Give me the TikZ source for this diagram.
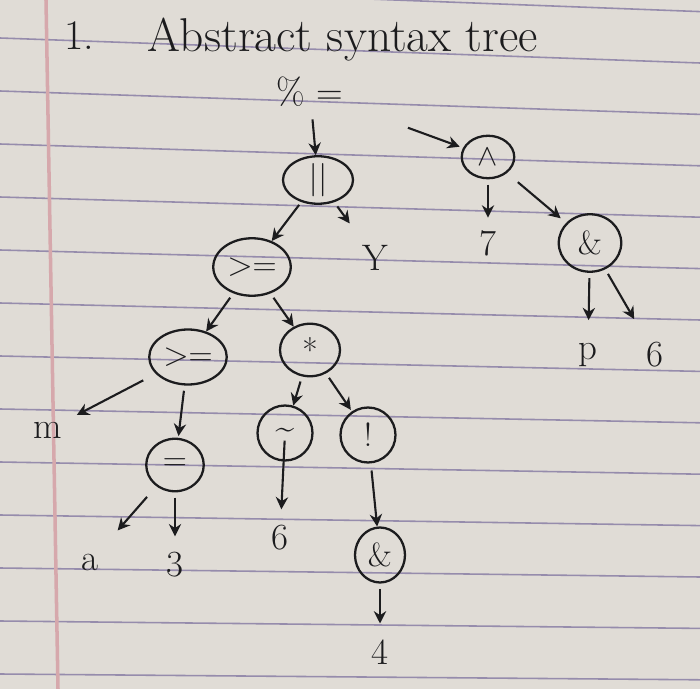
\documentclass[tikz,border=0pt]{standalone}
\usepackage{xcolor}
\usepackage{tikz}
\usetikzlibrary{shapes.geometric, arrows.meta}

\definecolor{paper}{RGB}{224,220,214}
\definecolor{rule}{RGB}{150,140,172}
\definecolor{margin}{RGB}{214,168,172}
\definecolor{ink}{RGB}{28,28,30}

\tikzset{
    op/.style={draw=ink, ellipse, line width=1.3pt, inner sep=0pt,
        minimum width=1.2cm, minimum height=1.05cm, text=ink,
        font=\fontsize{19}{21}\selectfont},
    leaf/.style={text=ink, inner sep=1pt, font=\fontsize{21}{23}\selectfont},
    arr/.style={draw=ink, line width=1.2pt, -{Stealth[length=7pt, width=7pt]}}
}

\begin{document}
\begin{tikzpicture}[x=0.02cm, y=-0.02cm]
    % the sheet
    \fill[paper] (0,0) rectangle (700,689);
    \useasboundingbox (0,0) rectangle (700,689);
    \foreach \k in {-1,...,12}
        \draw[rule, line width=0.9pt] (0, {38+53*\k}) -- (700, {38+53*\k+25-1.6*\k});
    \draw[margin, line width=2pt] (46,0) -- (58,689);

    % title
    \node[leaf, anchor=west] (num) at (62,36) {\fontsize{24}{26}\selectfont 1.};
    \node[leaf, anchor=west] (title) at (145,40) {\fontsize{27}{29}\selectfont Abstract syntax tree};

    % operators
    \node[leaf] (root) at (310,92) {\% =};
    \node[op, minimum width=1.4cm, minimum height=0.95cm] (or) at (318,180) {||};
    \node[op, minimum width=1.05cm, minimum height=0.85cm] (xor) at (488,157) {$\wedge$};
    \node[op, minimum width=1.55cm, minimum height=1.15cm] (ge1) at (252,267) {>=};
    \node[op, minimum width=1.25cm, minimum height=1.15cm] (and1) at (590,243) {\&};
    \node[op, minimum width=1.55cm, minimum height=1.1cm] (ge2) at (188,357) {>=};
    \node[op] (mul) at (310,350) {*};
    \node[op, minimum width=1.15cm] (eq) at (175,465) {=};
    \node[op, minimum width=1.1cm, minimum height=1.1cm] (tilde) at (285,433) {\textasciitilde};
    \node[op, minimum width=1.1cm, minimum height=1.1cm] (bang) at (368,435) {!};
    \node[op, minimum width=1.0cm, minimum height=1.1cm] (and2) at (380,555) {\&};

    % leaves
    \node[leaf] (y) at (375,258) {Y};
    \node[leaf] (seven) at (488,243) {7};
    \node[leaf] (p) at (588,355) {p};
    \node[leaf] (six1) at (655,355) {6};
    \node[leaf] (m) at (48,430) {m};
    \node[leaf] (a) at (90,562) {a};
    \node[leaf] (three) at (175,565) {3};
    \node[leaf] (six2) at (280,538) {6};
    \node[leaf] (four) at (380,652) {4};

    % edges
    \draw[arr, shorten <=6pt] (root) -- (or);
    \draw[arr, shorten <=38pt, shorten >=2pt] (root) -- (xor);
    \draw[arr, shorten <=2pt] (or) -- (ge1);
    \draw[arr, shorten <=3pt, shorten >=14pt] (or) -- (y);
    \draw[arr, shorten <=3pt, shorten >=6pt] (xor) -- (seven);
    \draw[arr, shorten <=8pt, shorten >=4pt] (xor) -- (and1);
    \draw[arr, shorten <=3pt, shorten >=12pt] (and1) -- (p);
    \draw[arr, shorten <=3pt, shorten >=14pt] (and1) -- (six1);
    \draw[arr, shorten <=3pt] (ge1) -- (ge2);
    \draw[arr, shorten <=3pt] (ge1) -- (mul);
    \draw[arr, shorten <=8pt, shorten >=8pt] (ge2) -- (m);
    \draw[arr, shorten <=3pt, shorten >=1pt] (ge2) -- (eq);
    \draw[arr, shorten <=8pt, shorten >=16pt] (eq) -- (a);
    \draw[arr, shorten <=3pt, shorten >=8pt] (eq) -- (three);
    \draw[arr, shorten <=3pt] (mul) -- (tilde);
    \draw[arr, shorten <=3pt, shorten >=1pt] (mul) -- (bang);
    \draw[arr, shorten <=-12pt, shorten >=8pt] (tilde) -- (six2);
    \draw[arr, shorten <=4pt] (bang) -- (and2);
    \draw[arr, shorten <=3pt, shorten >=8pt] (and2) -- (four);
\end{tikzpicture}
\end{document}
